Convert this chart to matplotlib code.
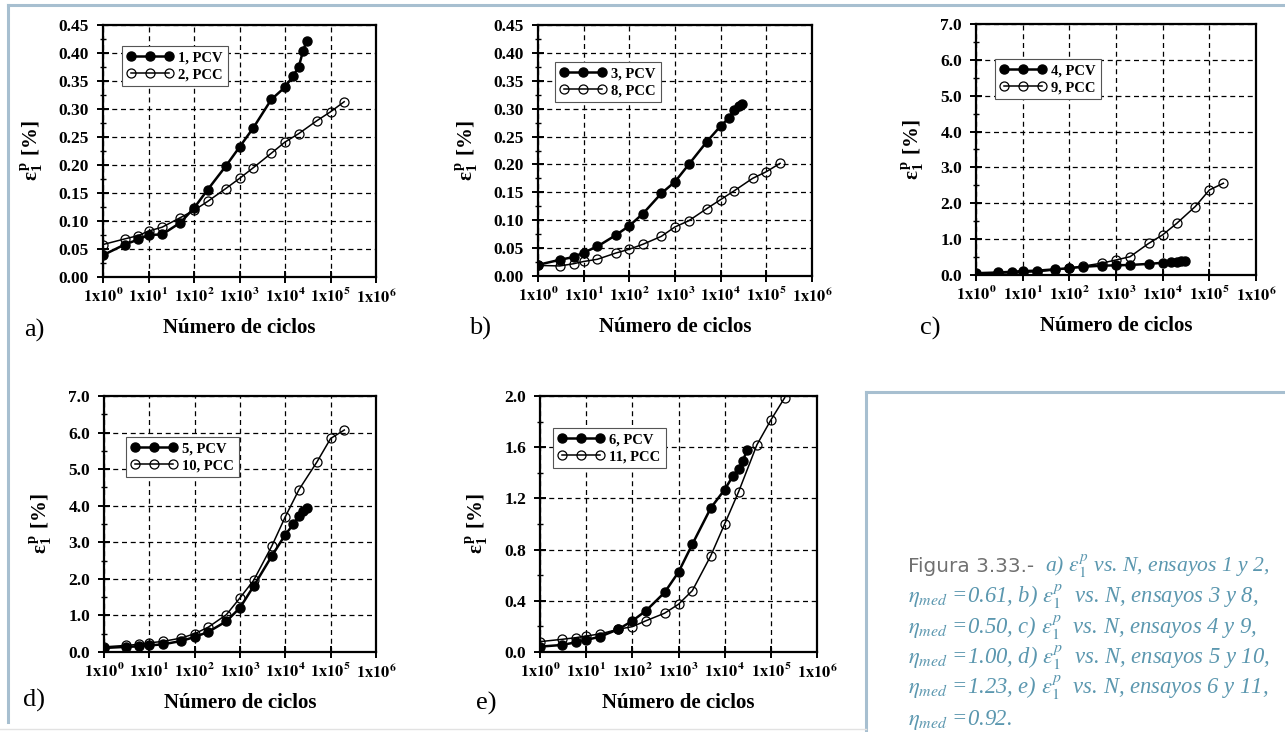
import matplotlib
matplotlib.use("Agg")
import matplotlib.pyplot as plt
from matplotlib.lines import Line2D
from matplotlib.ticker import FixedLocator, LogLocator, NullFormatter, MultipleLocator, FormatStrFormatter

plt.rcParams['mathtext.fontset'] = 'stix'
plt.rcParams['font.family'] = 'Liberation Serif'

W, H = 1285, 732

# numero de ciclos
n_pcv = [1, 3, 6, 10, 20, 50, 100, 200, 500, 1000, 2000, 5000, 10000, 15000, 20000, 25000, 30000]
n_pcc = [1, 3, 6, 10, 20, 50, 100, 200, 500, 1000, 2000, 5000, 10000, 20000, 50000, 100000, 200000]

# deformacion permanente [%]
a_pcv = [0.039, 0.058, 0.067, 0.075, 0.076, 0.097, 0.123, 0.156, 0.198, 0.232, 0.266, 0.317, 0.339, 0.359, 0.375, 0.404, 0.422]
a_pcc = [0.058, 0.068, 0.074, 0.082, 0.089, 0.106, 0.119, 0.135, 0.158, 0.176, 0.195, 0.221, 0.241, 0.256, 0.279, 0.295, 0.313]
b_pcv = [0.020, 0.029, 0.034, 0.042, 0.053, 0.073, 0.090, 0.112, 0.148, 0.169, 0.200, 0.241, 0.269, 0.283, 0.298, 0.305, 0.308]
b_pcc = [0.019, 0.018, 0.022, 0.026, 0.030, 0.041, 0.048, 0.057, 0.071, 0.088, 0.099, 0.121, 0.137, 0.153, 0.175, 0.187, 0.202]
c_pcv = [0.05, 0.07, 0.09, 0.11, 0.12, 0.16, 0.19, 0.23, 0.26, 0.27, 0.28, 0.31, 0.34, 0.36, 0.37, 0.38, 0.39]
c_pcc = [0.03, 0.05, 0.065, 0.075, 0.09, 0.14, 0.19, 0.25, 0.33, 0.42, 0.51, 0.88, 1.12, 1.44, 1.91, 2.37, 2.56]
d_pcv = [0.11, 0.14, 0.155, 0.18, 0.21, 0.30, 0.41, 0.55, 0.84, 1.21, 1.80, 2.62, 3.21, 3.49, 3.72, 3.85, 3.95]
d_pcc = [0.14, 0.18, 0.21, 0.25, 0.29, 0.38, 0.50, 0.68, 1.02, 1.48, 1.96, 2.89, 3.70, 4.44, 5.20, 5.84, 6.07]
e_pcv = [0.042, 0.055, 0.076, 0.094, 0.12, 0.178, 0.243, 0.324, 0.465, 0.624, 0.843, 1.125, 1.269, 1.373, 1.431, 1.491, 1.577]
e_pcc = [0.081, 0.099, 0.112, 0.125, 0.141, 0.178, 0.198, 0.245, 0.303, 0.373, 0.480, 0.752, 1.00, 1.251, 1.619, 1.812, 1.987]

labels_pcv = ['1, PCV', '3, PCV', '4, PCV', '5, PCV', '6, PCV']
labels_pcc = ['2, PCC', '8, PCC', '9, PCC', '10, PCC', '11, PCC']
letters = ['a)', 'b)', 'c)', 'd)', 'e)']
xtick_vals = [1, 10, 100, 1000, 10000, 100000, 1000000]
xtick_labels = [r'$\mathbf{1x10^{%d}}$' % i for i in range(7)]

caption_lines = [
    r'$\eta_{med}$ =0.61, b) $\varepsilon_1^p$  vs. N, ensayos 3 y 8,',
    r'$\eta_{med}$ =0.50, c) $\varepsilon_1^p$  vs. N, ensayos 4 y 9,',
    r'$\eta_{med}$ =1.00, d) $\varepsilon_1^p$  vs. N, ensayos 5 y 10,',
    r'$\eta_{med}$ =1.23, e) $\varepsilon_1^p$  vs. N, ensayos 6 y 11,',
    r'$\eta_{med}$ =0.92.',
]

# (left, top, right, bottom) en pixeles, ylim, paso mayor, formato, legend (x, y) px, letra (x, y) px
panels = [
    ((103, 25, 376, 277), (0, 0.45), 0.05, '%.2f', (122, 46), (34, 330)),
    ((538, 25, 812, 276), (0, 0.45), 0.05, '%.2f', (555, 62), (480, 328)),
    ((976, 24, 1256, 275), (0, 7.0), 1.0, '%.1f', (995, 59), (930, 328)),
    ((104, 396, 376, 652), (0, 7.0), 1.0, '%.1f', (126, 437), (34, 700)),
    ((540, 396, 817, 652), (0, 2.0), 0.4, '%.1f', (553, 428), (486, 703)),
]
data = [(a_pcv, a_pcc), (b_pcv, b_pcc), (c_pcv, c_pcc), (d_pcv, d_pcc), (e_pcv, e_pcc)]

fig = plt.figure(figsize=(W / 100, H / 100), dpi=100)

frame_c = '#a7bfd0'
fig.add_artist(Line2D([8 / W, 1], [1 - 5 / H, 1 - 5 / H], color=frame_c, lw=2.2))
fig.add_artist(Line2D([8 / W, 8 / W], [1 - 5 / H, 1 - 722 / H], color=frame_c, lw=2.2))
fig.add_artist(Line2D([866 / W, 1], [1 - 392 / H, 1 - 392 / H], color=frame_c, lw=2.2))
fig.add_artist(Line2D([866 / W, 866 / W], [1 - 392 / H, 0], color=frame_c, lw=2.2))
fig.add_artist(Line2D([0, 866 / W], [1 - 729 / H, 1 - 729 / H], color='#e2e2e2', lw=1.0))

for i, (box, ylim, step, fmt, leg_xy, let_xy) in enumerate(panels):
    l, t, r, b = box
    ax = fig.add_axes([l / W, 1 - b / H, (r - l) / W, (b - t) / H])
    yv_pcv, yv_pcc = data[i]
    ax.plot(n_pcv, yv_pcv, '-o', color='k', lw=1.8, ms=6.5, label=labels_pcv[i], zorder=4)
    ax.plot(n_pcc, yv_pcc, '-o', color='k', lw=1.1, ms=6.5, mfc='none', mec='k', mew=0.9,
            label=labels_pcc[i], zorder=3)
    ax.set_xscale('log')
    ax.set_xlim(1, 1e6)
    ax.set_ylim(*ylim)
    ax.xaxis.set_major_locator(FixedLocator(xtick_vals))
    ax.set_xticklabels(xtick_labels)
    ax.xaxis.set_minor_locator(LogLocator(base=10, subs=range(2, 10)))
    ax.xaxis.set_minor_formatter(NullFormatter())
    ax.yaxis.set_major_locator(MultipleLocator(step))
    ax.yaxis.set_minor_locator(MultipleLocator(step / 2))
    ax.yaxis.set_major_formatter(FormatStrFormatter(fmt))
    ax.tick_params(axis='x', which='major', direction='inout', length=8, width=1.4, labelsize=11.8, pad=4)
    ax.tick_params(axis='x', which='minor', direction='in', length=5, width=1.0)
    ax.tick_params(axis='y', which='major', direction='inout', length=8, width=1.4, labelsize=12.5, pad=6)
    ax.tick_params(axis='y', which='minor', direction='inout', length=5, width=1.0)
    for lab in ax.get_yticklabels():
        lab.set_fontweight('bold')
    for sp in ax.spines.values():
        sp.set_linewidth(1.6)
    ax.grid(True, which='major', color='k', ls=(0, (4, 3)), lw=0.9)
    ax.set_axisbelow(True)
    ax.set_xlabel('Número de ciclos', fontsize=15, fontweight='bold', labelpad=8)
    ax.set_ylabel(r'ε$_\mathregular{1}^{\,\mathregular{p}}$ [%]', fontsize=15, fontweight='bold', labelpad=10)

    lx = (leg_xy[0] - l) / (r - l)
    ly = 1 - (leg_xy[1] - t) / (b - t)
    leg = ax.legend(loc='upper left', bbox_to_anchor=(lx, ly), borderaxespad=0, numpoints=3,
                    handlelength=3.2, handletextpad=0.3, labelspacing=0.25, borderpad=0.35,
                    fancybox=False, framealpha=1, edgecolor='#555555',
                    prop={'family': 'Liberation Serif', 'weight': 'bold', 'size': 10.5})
    leg.get_frame().set_linewidth(0.8)

    fig.text(let_xy[0] / W, 1 - let_xy[1] / H, letters[i], fontsize=19, ha='center', va='center',
             family='Liberation Serif')

# pie de figura
teal = '#5b97af'
fig.text(908 / W, 1 - 572 / H, 'Figura 3.33.-', fontsize=14.4, color='#707070', family='DejaVu Sans',
         va='baseline')
fig.text(1045 / W, 1 - 572 / H, r'a) $\varepsilon_1^p$ vs. N, ensayos 1 y 2,', fontsize=15.6,
         color=teal, style='italic', family='Liberation Serif', va='baseline')
for k, line in enumerate(caption_lines):
    fig.text(908 / W, 1 - (603 + 30.5 * k) / H, line, fontsize=16.3, color=teal, style='italic',
             family='Liberation Serif', va='baseline')

fig.savefig('out.png', dpi=100)
